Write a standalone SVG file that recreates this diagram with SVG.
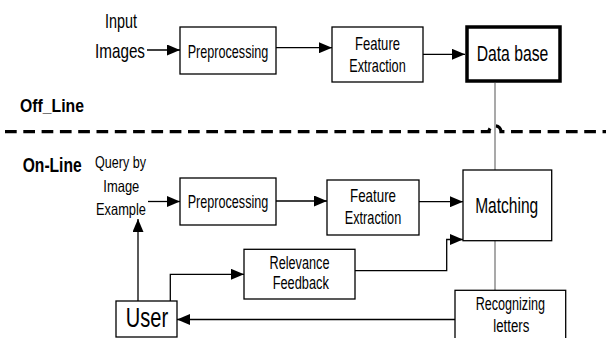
<svg xmlns="http://www.w3.org/2000/svg" width="606" height="338" viewBox="0 0 606 338">
<style>
  .box { fill: #fff; stroke: #000; stroke-width: 1.3; }
  .thick { fill: #fff; stroke: #000; stroke-width: 3.5; }
  .t { font-family: "Liberation Sans", Arial, sans-serif; fill: #000; text-anchor: middle; }
  .b { font-weight: bold; text-anchor: start; }
  .ln { fill: none; stroke: #000; stroke-width: 1.3; }
  .gray { fill: none; stroke: #8c8c8c; stroke-width: 1.5; }
  .dash { fill: none; stroke: #000; stroke-width: 3.3; stroke-dasharray: 11.7 6.6; }
</style>
<defs>
  <marker id="ah" markerUnits="userSpaceOnUse" markerWidth="13" markerHeight="11" refX="13" refY="5.5" orient="auto">
    <path d="M0,0 L13,5.5 L0,11 z" fill="#000"/>
  </marker>
</defs>
<rect width="606" height="338" fill="#fff"/>

<g id="connectors">
  <path class="dash" d="M5,131.7 H489 A6,6 0 0 1 501,131.7 H606"/>
  <path class="ln" d="M147,50 H180" marker-end="url(#ah)"/>
  <path class="ln" d="M276,47.7 H332" marker-end="url(#ah)"/>
  <path class="ln" d="M423,54.3 H465" marker-end="url(#ah)"/>
  <path class="gray" d="M495,83 V170"/>
  <path class="ln" d="M148,201.5 H180" marker-end="url(#ah)"/>
  <path class="ln" d="M276,201 H327" marker-end="url(#ah)"/>
  <path class="ln" d="M419,201.7 H463" marker-end="url(#ah)"/>
  <path class="gray" d="M495,241 V290"/>
  <path class="ln" d="M138,301 V219" marker-end="url(#ah)"/>
  <path class="ln" d="M170.3,301 V274.3 H244" marker-end="url(#ah)"/>
  <path class="ln" d="M355,270.7 H446.7 V239.5 H463" marker-end="url(#ah)"/>
  <path class="ln" d="M455,319.5 H177" marker-end="url(#ah)"/>
</g>

<g id="labels">
  <text class="t" x="121" y="28.3" font-size="21" textLength="32" lengthAdjust="spacingAndGlyphs">Input</text>
  <text class="t" x="120" y="58.3" font-size="21" textLength="50" lengthAdjust="spacingAndGlyphs">Images</text>
  <text class="t b" x="20" y="112" font-size="19" textLength="64" lengthAdjust="spacingAndGlyphs">Off_Line</text>
  <text class="t b" x="22.7" y="172.3" font-size="19.5" textLength="59" lengthAdjust="spacingAndGlyphs">On-Line</text>
  <text class="t" x="120.5" y="168" font-size="16.5" textLength="51" lengthAdjust="spacingAndGlyphs">Query by</text>
  <text class="t" x="121.3" y="191.7" font-size="16.5" textLength="36" lengthAdjust="spacingAndGlyphs">Image</text>
  <text class="t" x="121" y="215" font-size="16.5" textLength="50" lengthAdjust="spacingAndGlyphs">Example</text>
</g>

<g id="preprocessing-off">
  <rect class="box" x="180" y="27" width="96" height="47"/>
  <text class="t" x="228" y="58.3" font-size="18.5" textLength="80.6" lengthAdjust="spacingAndGlyphs">Preprocessing</text>
</g>
<g id="feature-off">
  <rect class="box" x="332" y="27" width="91" height="55"/>
  <text class="t" x="377.5" y="50" font-size="18.5" textLength="45" lengthAdjust="spacingAndGlyphs">Feature</text>
  <text class="t" x="377.5" y="71.7" font-size="18.5" textLength="56.4" lengthAdjust="spacingAndGlyphs">Extraction</text>
</g>
<g id="database">
  <rect class="thick" x="467" y="27" width="93" height="54"/>
  <text class="t" x="512.5" y="61" font-size="22" textLength="71.7" lengthAdjust="spacingAndGlyphs">Data base</text>
</g>
<g id="preprocessing-on">
  <rect class="box" x="180" y="178" width="96" height="47"/>
  <text class="t" x="228" y="208.3" font-size="18.5" textLength="80.6" lengthAdjust="spacingAndGlyphs">Preprocessing</text>
</g>
<g id="feature-on">
  <rect class="box" x="327" y="180" width="92" height="55"/>
  <text class="t" x="373" y="202" font-size="18.5" textLength="46" lengthAdjust="spacingAndGlyphs">Feature</text>
  <text class="t" x="373" y="224" font-size="18.5" textLength="56.4" lengthAdjust="spacingAndGlyphs">Extraction</text>
</g>
<g id="matching">
  <rect class="box" x="463" y="170" width="88.7" height="70.7"/>
  <text class="t" x="506.7" y="213.3" font-size="22" textLength="63" lengthAdjust="spacingAndGlyphs">Matching</text>
</g>
<g id="relevance">
  <rect class="box" x="244" y="249.3" width="111" height="49.7"/>
  <text class="t" x="299.5" y="269.3" font-size="17.5" textLength="60" lengthAdjust="spacingAndGlyphs">Relevance</text>
  <text class="t" x="300.8" y="289" font-size="17.5" textLength="56.3" lengthAdjust="spacingAndGlyphs">Feedback</text>
</g>
<g id="user">
  <rect class="box" x="116" y="301" width="61" height="36"/>
  <text class="t" x="147" y="326.7" font-size="27" textLength="42.3" lengthAdjust="spacingAndGlyphs">User</text>
</g>
<g id="recognizing">
  <rect class="box" x="455" y="290.3" width="110.7" height="52"/>
  <text class="t" x="510.3" y="310" font-size="17.5" textLength="69.3" lengthAdjust="spacingAndGlyphs">Recognizing</text>
  <text class="t" x="511.3" y="331.7" font-size="17.5" textLength="36" lengthAdjust="spacingAndGlyphs">letters</text>
</g>
</svg>
